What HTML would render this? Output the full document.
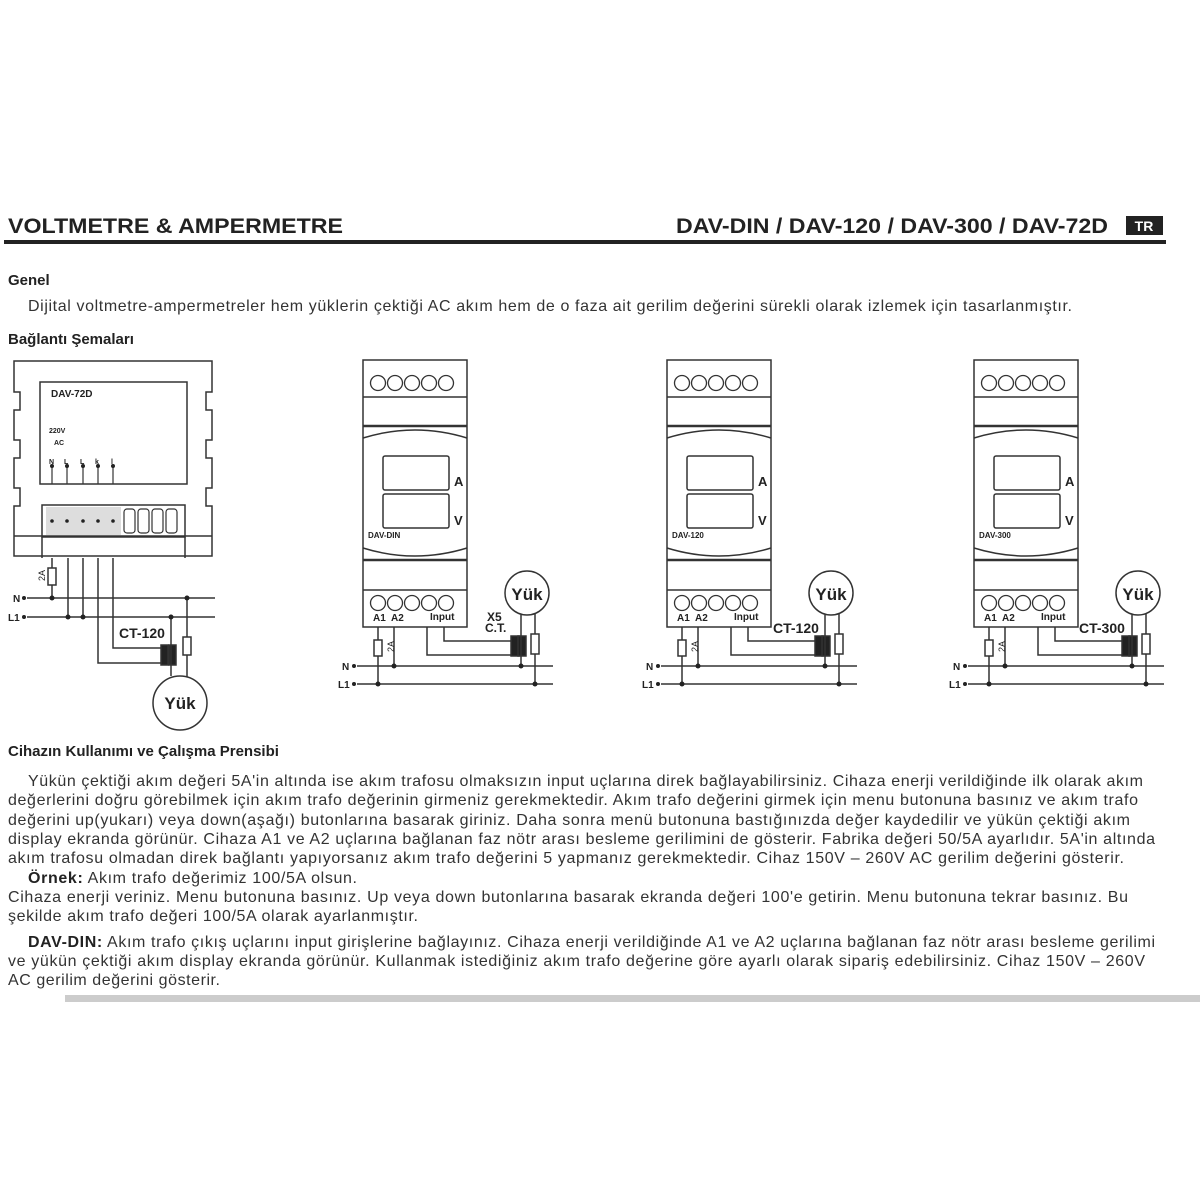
<!DOCTYPE html>
<html><head><meta charset="utf-8"><style>
html,body{margin:0;padding:0;background:#fff;}
svg{display:block;font-family:"Liberation Sans",Arial,sans-serif;}
</style></head><body>
<svg width="1200" height="1200" viewBox="0 0 1200 1200" xmlns="http://www.w3.org/2000/svg">
<defs>
<g id="din" fill="none" stroke="#333" stroke-width="1.5">
  <rect x="0" y="0" width="104" height="267" fill="#fff"/>
  <line x1="0" y1="37" x2="104" y2="37"/>
  <line x1="0" y1="66" x2="104" y2="66" stroke-width="2.5"/>
  <line x1="0" y1="200" x2="104" y2="200" stroke-width="2.5"/>
  <line x1="0" y1="230" x2="104" y2="230"/>
  <path d="M0 78 Q52 62 104 78"/>
  <path d="M0 188 Q52 204 104 188"/>
  <rect x="20" y="96" width="66" height="34" rx="2"/>
  <rect x="20" y="134" width="66" height="34" rx="2"/>
  <g stroke-width="1.3">
  <circle cx="15" cy="23" r="7.5"/><circle cx="32" cy="23" r="7.5"/><circle cx="49" cy="23" r="7.5"/><circle cx="66" cy="23" r="7.5"/><circle cx="83" cy="23" r="7.5"/>
  <circle cx="15" cy="243" r="7.5"/><circle cx="32" cy="243" r="7.5"/><circle cx="49" cy="243" r="7.5"/><circle cx="66" cy="243" r="7.5"/><circle cx="83" cy="243" r="7.5"/>
  </g>
  <g fill="#222" stroke="none" font-weight="bold">
  <text x="91" y="126" font-size="13">A</text>
  <text x="91" y="165" font-size="13">V</text>
  <text x="10" y="261" font-size="10">A1</text>
  <text x="28" y="261" font-size="10">A2</text>
  <text x="67" y="260" font-size="10">Input</text>
  </g>
  <polyline points="15,267 15,324"/>
  <rect x="11" y="280" width="8" height="16" fill="#fff"/>
  <polyline points="31,267 31,306"/>
  <polyline points="64,267 64,295 150,295"/>
  <polyline points="81,267 81,281 150,281"/>
  <rect x="148" y="276" width="8" height="20" fill="#222"/>
  <rect x="155" y="276" width="8" height="20" fill="#222"/>
  <circle cx="164" cy="233" r="22" fill="#fff"/>
  <line x1="158" y1="255" x2="158" y2="306"/>
  <line x1="172" y1="254" x2="172" y2="324"/>
  <rect x="168" y="274" width="8" height="20" fill="#fff"/>
  <line x1="-6" y1="306" x2="190" y2="306"/>
  <line x1="-6" y1="324" x2="190" y2="324"/>
  <g fill="#222" stroke="none">
  <circle cx="-9" cy="306" r="2"/><circle cx="-9" cy="324" r="2"/>
  <circle cx="31" cy="306" r="2.5"/><circle cx="15" cy="324" r="2.5"/>
  <circle cx="158" cy="306" r="2.5"/><circle cx="172" cy="324" r="2.5"/>
  <text x="-21" y="310" font-size="10" font-weight="bold">N</text>
  <text x="-25" y="328" font-size="10" font-weight="bold">L1</text>
  <text x="164" y="240" font-size="17" font-weight="bold" text-anchor="middle">Yük</text>
  <text x="23" y="292" font-size="9" transform="rotate(-90 27 288)">2A</text>
  </g>
</g>
</defs>

<text x="8" y="233" font-size="21" font-weight="bold" fill="#222" textLength="335" lengthAdjust="spacingAndGlyphs">VOLTMETRE &amp; AMPERMETRE</text>
<text x="676" y="233" font-size="21" font-weight="bold" fill="#222" textLength="432" lengthAdjust="spacingAndGlyphs">DAV-DIN / DAV-120 / DAV-300 / DAV-72D</text>
<rect x="1126" y="216" width="37" height="19" fill="#222"/>
<text x="1144" y="231" font-size="14" font-weight="bold" fill="#fff" text-anchor="middle">TR</text>
<rect x="4" y="240" width="1162" height="4" fill="#222"/>

<text x="8" y="285" font-size="15" font-weight="bold" fill="#222">Genel</text>
<text x="28" y="311" font-size="16" fill="#333" textLength="1044">Dijital voltmetre-ampermetreler hem yüklerin çektiği AC akım hem de o faza ait gerilim değerini sürekli olarak izlemek için tasarlanmıştır.</text>
<text x="8" y="344" font-size="15" font-weight="bold" fill="#222">Bağlantı Şemaları</text>

<g fill="none" stroke="#333" stroke-width="1.5">
  <path d="M14 361 H212 V392 H206 V410 H212 V440 H206 V458 H212 V488 H206 V506 H212 V556 H14 V506 H20 V488 H14 V458 H20 V440 H14 V410 H20 V392 H14 Z"/>
  <rect x="40" y="382" width="147" height="102"/>
  <rect x="42" y="505" width="143" height="32" fill="#fff"/>
  <rect x="46" y="507" width="75" height="28" fill="#ddd" stroke="none"/>
  <line x1="14" y1="536" x2="212" y2="536"/>
  <line x1="42" y1="537" x2="42" y2="558"/>
  <line x1="185" y1="537" x2="185" y2="558"/>
  <g stroke-width="1.2"><rect x="124" y="509" width="11" height="24" rx="3"/><rect x="138" y="509" width="11" height="24" rx="3"/><rect x="152" y="509" width="11" height="24" rx="3"/><rect x="166" y="509" width="11" height="24" rx="3"/></g>
  <line x1="52" y1="558" x2="52" y2="598"/>
  <rect x="48" y="568" width="8" height="17" fill="#fff"/>
  <line x1="68" y1="558" x2="68" y2="617"/>
  <line x1="83" y1="558" x2="83" y2="617"/>
  <polyline points="98,558 98,663 163,663"/>
  <polyline points="113,558 113,648 163,648"/>
  <rect x="161" y="645" width="7" height="20" fill="#222"/>
  <rect x="169" y="645" width="7" height="20" fill="#222"/>
  <line x1="171" y1="617" x2="171" y2="676"/>
  <line x1="187" y1="598" x2="187" y2="682"/>
  <rect x="183" y="637" width="8" height="18" fill="#fff"/>
  <circle cx="180" cy="703" r="27" fill="#fff"/>
  <line x1="27" y1="598" x2="215" y2="598"/>
  <line x1="27" y1="617" x2="215" y2="617"/>
  <g stroke-width="1.2"><line x1="52" y1="466" x2="52" y2="484"/><line x1="67" y1="466" x2="67" y2="484"/><line x1="83" y1="466" x2="83" y2="484"/><line x1="98" y1="466" x2="98" y2="484"/><line x1="113" y1="466" x2="113" y2="484"/></g>
</g>
<g fill="#222">
  <circle cx="52" cy="466" r="2"/><circle cx="67" cy="466" r="2"/><circle cx="83" cy="466" r="2"/><circle cx="98" cy="466" r="2"/><circle cx="113" cy="466" r="2"/>
  <circle cx="52" cy="521" r="1.8"/><circle cx="67" cy="521" r="1.8"/><circle cx="83" cy="521" r="1.8"/><circle cx="98" cy="521" r="1.8"/><circle cx="113" cy="521" r="1.8"/>
  <circle cx="24" cy="598" r="2"/><circle cx="24" cy="617" r="2"/>
  <circle cx="52" cy="598" r="2.5"/><circle cx="68" cy="617" r="2.5"/><circle cx="83" cy="617" r="2.5"/>
  <circle cx="171" cy="617" r="2.5"/><circle cx="187" cy="598" r="2.5"/>
  <g font-weight="bold">
  <text x="51" y="397" font-size="10">DAV-72D</text>
  <text x="49" y="433" font-size="7">220V</text>
  <text x="54" y="445" font-size="7">AC</text>
  <text x="49" y="464" font-size="7">N</text><text x="64" y="464" font-size="7">L</text><text x="80" y="464" font-size="7">L</text><text x="95" y="464" font-size="7">k</text><text x="111" y="464" font-size="7">l</text>
  <text x="13" y="602" font-size="10">N</text>
  <text x="8" y="621" font-size="10">L1</text>
  <text x="119" y="638" font-size="14">CT-120</text>
  <text x="180" y="709" font-size="17" text-anchor="middle">Yük</text>
  </g>
  <text x="37" y="581" font-size="9" transform="rotate(-90 41 577)">2A</text>
</g>

<use href="#din" transform="translate(363,360)"/>
<use href="#din" transform="translate(667,360)"/>
<use href="#din" transform="translate(974,360)"/>
<g fill="#222" font-weight="bold">
  <text x="368" y="538" font-size="8">DAV-DIN</text>
  <text x="672" y="538" font-size="8">DAV-120</text>
  <text x="979" y="538" font-size="8">DAV-300</text>
  <text x="487" y="621" font-size="12">X5</text>
  <text x="485" y="632" font-size="12">C.T.</text>
  <text x="773" y="633" font-size="14">CT-120</text>
  <text x="1079" y="633" font-size="14">CT-300</text>
</g>

<g font-size="16" fill="#333">
<text x="8" y="756" font-size="15" font-weight="bold" fill="#222">Cihazın Kullanımı ve Çalışma Prensibi</text>
<text x="28" y="786" textLength="1115">Yükün çektiği akım değeri 5A'in altında ise akım trafosu olmaksızın input uçlarına direk bağlayabilirsiniz. Cihaza enerji verildiğinde ilk olarak akım</text>
<text x="8" y="805" textLength="1130">değerlerini doğru görebilmek için akım trafo değerinin girmeniz gerekmektedir. Akım trafo değerini girmek için menu butonuna basınız ve akım trafo</text>
<text x="8" y="825" textLength="1122">değerini up(yukarı) veya down(aşağı) butonlarına basarak giriniz. Daha sonra menü butonuna bastığınızda değer kaydedilir ve yükün çektiği akım</text>
<text x="8" y="844" textLength="1147">display ekranda görünür. Cihaza A1 ve A2 uçlarına bağlanan faz nötr arası besleme gerilimini de gösterir. Fabrika değeri 50/5A ayarlıdır. 5A'in altında</text>
<text x="8" y="863" textLength="1116">akım trafosu olmadan direk bağlantı yapıyorsanız akım trafo değerini 5 yapmanız gerekmektedir. Cihaz 150V – 260V AC gerilim değerini gösterir.</text>
<text x="28" y="883" textLength="329"><tspan font-weight="bold" fill="#222">Örnek:</tspan> Akım trafo değerimiz 100/5A olsun.</text>
<text x="8" y="902" textLength="1120">Cihaza enerji veriniz. Menu butonuna basınız. Up veya down butonlarına basarak ekranda değeri 100'e getirin. Menu butonuna tekrar basınız. Bu</text>
<text x="8" y="921" textLength="410">şekilde akım trafo değeri 100/5A olarak ayarlanmıştır.</text>
<text x="28" y="947" textLength="1127"><tspan font-weight="bold" fill="#222">DAV-DIN:</tspan> Akım trafo çıkış uçlarını input girişlerine bağlayınız. Cihaza enerji verildiğinde A1 ve A2 uçlarına bağlanan faz nötr arası besleme gerilimi</text>
<text x="8" y="966" textLength="1137">ve yükün çektiği akım display ekranda görünür. Kullanmak istediğiniz akım trafo değerine göre ayarlı olarak sipariş edebilirsiniz. Cihaz 150V – 260V</text>
<text x="8" y="985" textLength="212">AC gerilim değerini gösterir.</text>
</g>
<rect x="65" y="995" width="1135" height="7" fill="#ccc"/>
</svg>
</body></html>
